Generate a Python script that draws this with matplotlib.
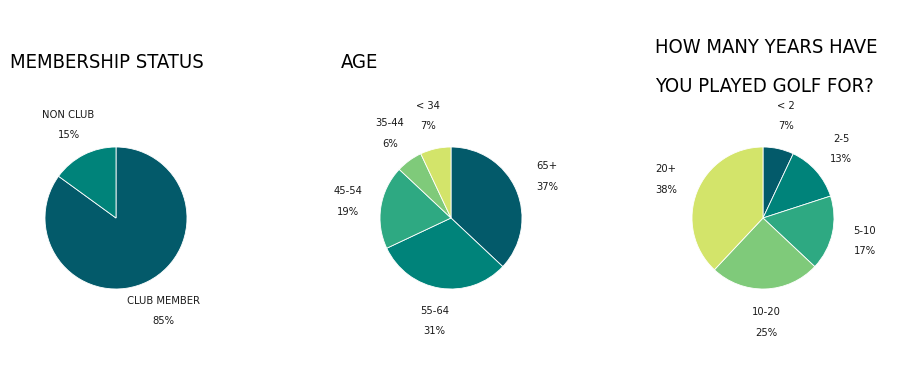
import matplotlib
matplotlib.use("Agg")
import matplotlib.pyplot as plt
from matplotlib import font_manager as fm

# ---- data ----
member_labels = ["CLUB MEMBER", "NON CLUB"]
member_values = [85, 15]

age_labels = ["65+", "55-64", "45-54", "35-44", "< 34"]
age_values = [37, 31, 19, 6, 7]

years_labels = ["< 2", "2-5", "5-10", "10-20", "20+"]
years_values = [7, 13, 17, 25, 38]

titles = ["MEMBERSHIP STATUS", "AGE", "HOW MANY YEARS HAVE\nYOU PLAYED GOLF FOR?"]

# ---- font selection ----
names = {(f.name, f.stretch) for f in fm.fontManager.ttflist}
allnames = {f.name for f in fm.fontManager.ttflist}
if "Liberation Sans Narrow" in allnames:
    font_kw = dict(family="Liberation Sans Narrow")
elif any(n == "DejaVu Sans" and s == "condensed" for n, s in names):
    font_kw = dict(family="DejaVu Sans", stretch="condensed")
elif "Roboto Condensed" in allnames:
    font_kw = dict(family="Roboto Condensed")
else:
    font_kw = dict(family="DejaVu Sans")

c_dark = "#035a6a"
c_teal = "#00837a"
c_green = "#2ea982"
c_lgreen = "#7fca7a"
c_yellow = "#d3e46a"

member_colors = [c_dark, c_teal]
age_colors = [c_dark, c_teal, c_green, c_lgreen, c_yellow]
years_colors = [c_dark, c_teal, c_green, c_lgreen, c_yellow]

W, H = 898, 372
fig = plt.figure(figsize=(W / 100, H / 100), dpi=100)
ax = fig.add_axes([0, 0, 1, 1])

R = 71
centers = [(116, H - 218), (451, H - 218), (763, H - 218)]
datasets = [
    (member_labels, member_values, member_colors),
    (age_labels, age_values, age_colors),
    (years_labels, years_values, years_colors),
]

for (cx, cy), (labs, vals, cols) in zip(centers, datasets):
    total = sum(vals)
    lab_txt = [f"{l}\n{round(100 * v / total)}%" for l, v in zip(labs, vals)]
    wedges, texts = ax.pie(vals, colors=cols, startangle=90, counterclock=False,
                           center=(cx, cy), radius=R, labels=lab_txt,
                           labeldistance=1.47, frame=True,
                           wedgeprops=dict(linewidth=0.6, edgecolor="white"),
                           textprops=dict(fontsize=8, color="#1a1a1a",
                                          linespacing=2.3, **font_kw))
    for t in texts:
        t.set_ha("center")
        t.set_va("center")

ax.set_xlim(0, W)
ax.set_ylim(0, H)
ax.set_aspect("equal")
ax.axis("off")

ax.text(10, H - 63, titles[0], fontsize=14.5, color="black", va="center", ha="left", **font_kw)
ax.text(341, H - 63, titles[1], fontsize=14.5, color="black", va="center", ha="left", **font_kw)
ax.text(655, H - 67, titles[2], fontsize=14.5, color="black", va="center", ha="left",
        linespacing=2.28, **font_kw)

fig.savefig("out.png", dpi=100, facecolor="white")
